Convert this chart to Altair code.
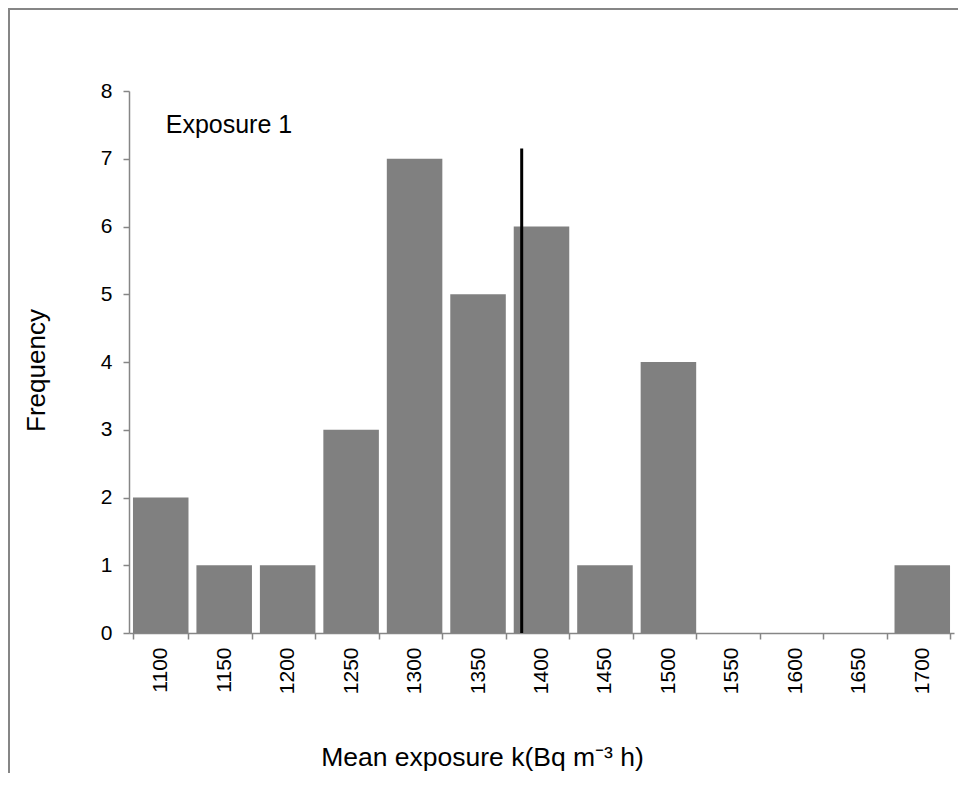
import altair as alt
import pandas as pd

categories = ["1100", "1150", "1200", "1250", "1300", "1350", "1400",
              "1450", "1500", "1550", "1600", "1650", "1700"]
frequencies = [2, 1, 1, 3, 7, 5, 6, 1, 4, 0, 0, 0, 1]

mean_exposure = 1384.4
mean_line_top = 7.15
annotation_text = ["Exposure 1"]
annotation_y = [7.38]

FONT = "Liberation Sans"
GREY = "#868686"
P_INNER = 0.125
P_OUTER = 0.0625

bars_df = pd.DataFrame({"cat": categories, "freq": frequencies})

# locate mean on the categorical (50-wide bin) axis
start = int(categories[0]) - 25
idx = int((mean_exposure - start) // 50)
frac = (mean_exposure - start) / 50 - idx
band_pos = (frac - P_INNER / 2) / (1 - P_INNER)
rule_df = pd.DataFrame({"cat": [categories[idx]], "y0": [0], "y1": [mean_line_top]})
text_df = pd.DataFrame({"cat": [categories[0]], "y": annotation_y, "label": annotation_text})

xscale = alt.Scale(domain=categories, paddingInner=P_INNER, paddingOuter=P_OUTER)
yscale = alt.Scale(domain=[0, 8])

bars = alt.Chart(bars_df).mark_bar(color="#808080").encode(
    x=alt.X("cat:N", sort=categories, scale=xscale,
            axis=alt.Axis(title="Mean exposure k(Bq m⁻³ h)", labelAngle=-90,
                          tickBand="extent", tickSize=6, labelPadding=8,
                          domainColor=GREY, tickColor=GREY, domainWidth=1.5,
                          tickWidth=1.5, labelFontSize=21, labelColor="black",
                          labelFont=FONT, titleFont=FONT, titleFontSize=26.5,
                          titleFontWeight="normal", titleColor="black",
                          titleX=353, titleY=132, titleBaseline="alphabetic",
                          titleAlign="center")),
    y=alt.Y("freq:Q", scale=yscale,
            axis=alt.Axis(title="Frequency", values=list(range(0, 9)), format="d",
                          tickSize=6, labelPadding=11, grid=False,
                          domainColor=GREY, tickColor=GREY, domainWidth=1.5,
                          tickWidth=1.5, labelFontSize=21, labelColor="black",
                          labelFont=FONT, titleFont=FONT, titleFontSize=26,
                          titleFontWeight="normal", titleColor="black",
                          titleX=-93, titleY=279, titleBaseline="middle",
                          titleAlign="center", titleAngle=-90)),
)

rule = alt.Chart(rule_df).mark_rule(color="black", strokeWidth=3).encode(
    x=alt.X("cat:N", sort=categories, scale=xscale, bandPosition=band_pos),
    y=alt.Y("y0:Q", scale=yscale),
    y2="y1:Q",
)

text = alt.Chart(text_df).mark_text(
    align="left", baseline="alphabetic", dx=5, fontSize=25, font=FONT, color="black"
).encode(
    x=alt.X("cat:N", sort=categories, scale=xscale, bandPosition=0.5),
    y=alt.Y("y:Q", scale=yscale),
    text="label:N",
)

frame = alt.Chart(text_df).mark_rect(
    fill=None, fillOpacity=0, stroke=GREY, strokeWidth=2
).encode(
    x=alt.value(-120), x2=alt.value(900), y=alt.value(-82), y2=alt.value(900)
)

chart = alt.layer(frame, bars, rule, text).properties(
    width=825, height=542,
    autosize=alt.AutoSizeParams(type="none"),
    padding={"left": 121, "top": 83, "right": 4, "bottom": 140},
).configure_view(strokeWidth=0)

chart.save("out.html", embed_options={"renderer": "svg", "actions": False})
